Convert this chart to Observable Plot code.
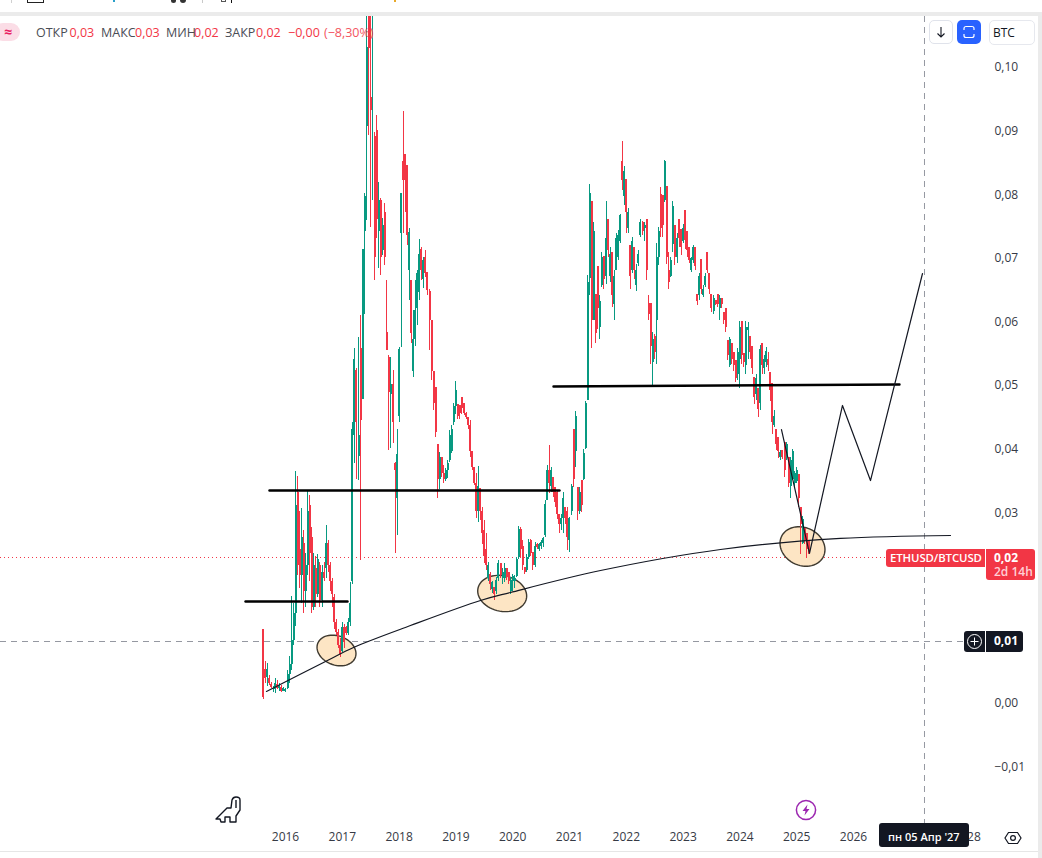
<!DOCTYPE html>
<html lang="ru">
<head>
<meta charset="utf-8">
<title>ETHUSD/BTCUSD</title>
<script src="https://cdn.jsdelivr.net/npm/d3@7"></script>
<script src="https://cdn.jsdelivr.net/npm/@observablehq/plot@0.6"></script>
<style>
html,body{margin:0;padding:0;background:#fff;width:1042px;height:858px;overflow:hidden}
#chart{position:absolute;left:0;top:0}
.c{position:absolute;font-family:"Open Sans",sans-serif;font-size:12px;line-height:1;white-space:nowrap}
.lg{top:26.5px;color:#4a4d55;font-size:12.5px}
.lr{top:26.5px;color:#f23645;font-size:12.5px}
.box{position:absolute;box-sizing:border-box}
svg.ic{position:absolute;overflow:visible}
</style>
</head>
<body>
<div id="chart"></div>
<script>
// Weekly-ish candles in units of 0.0001 BTC, each row [open, high, low, close]; rows are evenly placed inside a year.
const candles2015 = [[114,114,5,8],[52,64,30,38],[40,62,25,52],[38,42,26,30],[28,32,22,24],[20,25,16,22],[20,38,14,30],[28,34,20,22],[22,30,18,26],[24,26,16,18],[18,24,17,22]];
const candles2016 = [[18,22,16,20],[22,50,20,44],[44,72,30,60],[60,166,50,98],[98,155,90,140],[140,363,120,310],[330,355,200,215],[240,300,180,200],[200,305,155,260],[250,270,140,175],[175,234,150,215],[215,334,200,300],[310,325,190,235],[260,275,140,150],[150,235,145,215],[210,230,150,170],[170,232,165,225],[215,220,150,160],[160,215,150,205],[205,220,190,195],[210,279,195,250],[250,255,205,215],[215,220,175,190],[190,195,150,170],[165,170,115,125],[125,130,105,110],[110,115,85,90],[90,100,70,75]];
const candles2017 = [[80,125,78,118],[118,122,85,95],[118,120,105,108],[108,132,105,125],[125,188,120,155],[190,441,185,430],[420,556,375,540],[522,525,351,440],[386,574,349,420],[556,608,223,443],[477,713,477,713],[740,800,610,795],[905,1500,758,1030],[1080,1500,891,1028],[951,1500,747,931],[1200,1400,789,1210],[890,896,663,700],[900,923,729,760],[740,817,682,790],[790,792,671,700],[710,761,703,750],[770,784,687,700],[582,664,553,553],[543,545,396,488],[485,542,399,500],[500,522,407,440],[375,378,234,365],[320,430,262,390]];
const candles2018 = [[450,558,440,555],[737,800,558,800],[850,930,737,820],[861,861,770,820],[844,844,718,735],[680,745,632,739],[663,663,564,580],[520,616,511,570],[570,663,560,616],[620,679,593,675],[645,728,632,705],[712,716,663,680],[665,700,651,695],[700,710,668,675],[676,676,640,648],[647,650,553,600],[600,600,506,520],[520,520,459,470],[495,495,417,425],[406,406,320,350],[350,393,335,385],[385,385,354,360],[360,372,345,350],[350,368,348,365],[365,380,352,375],[380,427,378,420],[395,435,391,430],[440,470,435,465]];
const candles2019 = [[465,504,453,490],[469,469,445,450],[467,467,445,455],[480,480,453,462],[470,470,451,455],[455,456,445,448],[448,448,430,435],[435,443,385,395],[395,395,364,370],[370,370,341,345],[345,360,290,300],[300,371,283,340],[336,336,286,300],[300,307,249,265],[270,286,218,230],[240,265,207,215],[195,220,191,215],[202,204,176,185],[178,190,172,188],[181,181,160,170],[175,196,170,192],[195,223,191,218],[218,218,195,200],[195,210,185,205],[195,218,188,210],[210,210,192,197],[205,205,185,190],[175,197,170,192]];
const candles2020 = [[190,202,175,198],[190,200,180,195],[198,228,197,225],[228,276,225,272],[272,275,228,240],[245,254,207,215],[212,212,202,205],[207,233,205,228],[228,257,225,252],[255,257,230,235],[236,236,207,215],[215,252,212,245],[248,250,240,243],[240,250,238,248],[245,255,240,252],[250,260,244,258],[262,317,260,312],[317,372,317,365],[365,404,328,345],[340,370,330,365],[354,354,322,330],[338,338,307,315],[330,333,287,295],[296,296,265,280],[280,296,270,290],[290,330,265,320],[307,307,280,290],[300,307,239,260]];
const candles2021 = [[255,291,236,290],[300,343,294,340],[430,430,338,350],[395,457,369,450],[338,338,286,300],[300,338,295,330],[349,349,299,310],[350,398,349,392],[400,474,398,470],[475,671,475,660],[666,815,640,800],[787,787,556,600],[600,755,600,740],[642,642,564,580],[685,685,587,620],[590,640,571,630],[655,708,653,700],[702,702,650,665],[670,788,658,730],[760,760,700,710],[670,715,660,705],[708,708,621,640],[625,679,600,670],[680,737,680,730],[700,742,695,735],[725,768,721,765],[850,882,805,820],[795,842,781,835]];
const candles2022 = [[823,823,737,770],[745,777,737,770],[718,718,650,670],[680,731,674,725],[715,715,665,680],[655,689,647,680],[690,710,685,705],[735,760,731,755],[755,757,735,740],[745,755,725,750],[759,759,663,680],[627,640,600,610],[627,627,532,560],[535,582,498,570],[575,579,540,550],[600,721,532,700],[700,747,687,740],[799,810,731,745],[797,797,731,750],[790,852,786,850],[811,811,689,700],[680,708,650,660],[670,700,668,695],[720,787,708,780],[750,750,687,700],[700,737,690,730],[760,760,716,730],[744,744,703,715]];
const candles2023 = [[725,752,721,745],[774,774,712,726],[740,740,700,710],[715,715,690,695],[680,700,676,698],[695,718,690,715],[716,716,680,685],[642,642,624,630],[640,674,632,670],[697,697,642,650],[640,655,637,650],[655,674,653,670],[708,708,674,680],[675,675,642,650],[642,642,613,620],[615,640,610,635],[632,632,624,626],[642,642,621,625],[620,640,600,635],[635,635,620,625],[613,613,595,600],[619,619,582,590],[569,569,537,545],[530,574,527,570],[564,564,531,540],[550,550,520,530],[537,537,503,510],[515,556,506,550]];
const candles2024 = [[540,599,493,590],[599,599,532,545],[548,548,527,535],[530,599,516,590],[585,598,540,590],[575,575,540,550],[560,560,516,525],[511,511,469,480],[485,516,475,510],[493,493,448,460],[470,561,459,555],[564,564,516,530],[525,545,516,540],[535,558,526,552],[540,550,520,530],[519,519,474,490],[501,501,422,440],[435,459,433,450],[430,430,396,405],[417,417,383,395],[385,396,380,393],[396,396,382,385],[409,409,354,365],[385,409,380,405],[385,385,338,345],[340,385,320,380],[350,398,349,395],[345,363,338,360]];
const candles2025 = [[348,370,344,365],[359,359,307,320],[307,307,233,280],[250,292,249,288],[273,273,249,255],[265,265,226,240],[254,254,233,236]];

const yearTicks = [2016,2017,2018,2019,2020,2021,2022,2023,2024,2025,2026,2028];
const priceTicks = [-0.01,0,0.03,0.04,0.05,0.06,0.07,0.08,0.09,0.10];

// Drawn levels, as [year, price]
const levelLow  = [[2015.296,0.01588],[2017.092,0.01588]];
const levelMid  = [[2015.718,0.03333],[2020.824,0.03333]];
const levelHigh = [[2020.718,0.04969],[2026.810,0.0500]];
const growthCurve = [[2015.665,0.00173],[2016.739,0.0066],[2017.197,0.00865],[2018.2,0.0121],[2019.433,0.01604],[2019.961,0.0173],[2021.546,0.02075],[2023.658,0.02406],[2025.771,0.02579],[2027.708,0.02626]];
const projection = [[2024.732,0.04292],[2025.225,0.02343],[2025.806,0.0467],[2026.299,0.0349],[2027.215,0.06745]];
// Circled lows: centre year, centre price, half width in years, half height in price, tilt in price
const circledLows = [[2016.898,0.00818,0.343,0.00236,-0.0005],[2019.815,0.01714,0.431,0.00283,-0.0004],[2025.102,0.02453,0.396,0.00307,-0.0005]];

const lastPrice = 0.0228, crossPrice = 0.00959, crossYear = 2027.25;
const priceLineEnd = 2026.563, crossLineEnd = 2027.954;
const upColor = "#089981", downColor = "#f23645";

const yearStarts = [[2015,17,candles2015],[2016,0,candles2016],[2017,0,candles2017],[2018,0,candles2018],[2019,0,candles2019],[2020,0,candles2020],[2021,0,candles2021],[2022,0,candles2022],[2023,0,candles2023],[2024,0,candles2024],[2025,0,candles2025]];
const candles = yearStarts.flatMap(([yr,off,rows]) => rows.map((r,i) => ({
  t: yr + (off+i)/28, open:r[0]/1e4, high:r[1]/1e4, low:r[2]/1e4, close:r[3]/1e4
})));
const tone = d => d.close >= d.open ? upColor : downColor;

const outlines = circledLows.flatMap(([cx,cy,rx,ry,tilt],id) => d3.range(0,360,6).map(a => {
  const r = a*Math.PI/180;
  return {id, t: cx+rx*Math.cos(r), v: cy+ry*Math.sin(r)+tilt*Math.cos(r)};
}));

const fmtPrice = d => (d<0?"\u2212":"")+Math.abs(d).toFixed(2).replace(".",",");
const pt = a => ({x:d=>d[0],y:d=>d[1]});

const plot = Plot.plot({
  width:1042, height:858,
  marginTop:16, marginBottom:28, marginLeft:0, marginRight:48,
  style:{fontFamily:'"Open Sans",sans-serif',fontSize:"12px",color:"#363a45",background:"transparent"},
  x:{domain:[2010.9824,2028.4824],label:null},
  y:{domain:[-0.020126,0.10786],label:null},
  marks:[
    Plot.axisX({ticks:yearTicks,tickFormat:d=>String(d),tickSize:0,tickPadding:0,label:null,dy:2}),
    Plot.axisY({ticks:priceTicks,anchor:"right",tickFormat:fmtPrice,tickSize:0,tickPadding:0,label:null,dy:1}),
    Plot.ruleY([lastPrice],{x1:2010.9824,x2:priceLineEnd,stroke:downColor,strokeWidth:1,strokeDasharray:"1,3"}),
    Plot.ruleY([crossPrice],{x1:2010.9824,x2:crossLineEnd,stroke:"#9598a1",strokeWidth:1,strokeDasharray:"6,5"}),
    Plot.ruleX([crossYear],{stroke:"#9598a1",strokeWidth:1,strokeDasharray:"6,5"}),
    Plot.line(outlines,{x:"t",y:"v",z:"id",curve:"linear-closed",fill:"#fde5c4",stroke:"#3f3a30",strokeWidth:1.4}),
    Plot.ruleX(candles,{x:"t",y1:"low",y2:"high",stroke:tone,strokeWidth:1,clip:true,shapeRendering:"crispEdges"}),
    Plot.ruleX(candles,{x:"t",y1:"open",y2:"close",stroke:tone,strokeWidth:2,clip:true,shapeRendering:"crispEdges"}),
    Plot.line(levelLow,{...pt(),stroke:"#000",strokeWidth:2.4}),
    Plot.line(levelMid,{...pt(),stroke:"#000",strokeWidth:2.4}),
    Plot.line(levelHigh,{...pt(),stroke:"#000",strokeWidth:2.4}),
    Plot.line(growthCurve,{...pt(),curve:"catmull-rom",stroke:"#131722",strokeWidth:1.2}),
    Plot.line(projection,{...pt(),stroke:"#131722",strokeWidth:1.2})
  ]
});
document.getElementById("chart").appendChild(plot);

// Terminal chrome around the plot
function box(l,t,w,h,css,html){
  const e=document.createElement("div");e.className="box";
  e.style.cssText=`left:${l}px;top:${t}px;width:${w}px;height:${h}px;`+(css||"");
  if(html)e.innerHTML=html;document.body.appendChild(e);return e;
}
function txt(l,t,s,css,cls){
  const e=document.createElement("div");e.className="c "+(cls||"");
  e.style.cssText=`left:${l}px;`+(t!=null?`top:${t}px;`:"")+(css||"");
  e.textContent=s;document.body.appendChild(e);return e;
}
box(0,12,1042,4,"background:#ebebeb");
box(1038,12,4,846,"background:#ebebeb");
box(0,851,1038,1,"background:#e6e6e6");
// cut-off toolbar icons
box(11,0,1,3,"background:#d0d0d0");
box(27,0,17,3,"border:1px solid #222;border-top:none");
box(113,0,2,2,"background:#2a9fc9");
box(171,0,5,3,"background:#333;border-radius:0 0 3px 3px");
box(180,0,6,3,"background:#333;border-radius:0 0 3px 3px");
box(202,0,1,3,"background:#c9c9c9");
box(221,0,5,2,"border:1px solid #555;border-top:none");
box(231,0,1,3,"background:#111");
box(394,0,2,2,"background:#e8a92a");
// legend
box(-6,23,26,18,"background:#fbdde6;border-radius:9px");
txt(4,25,"\u2248","color:#e91e63;font-weight:700;font-size:14px");
txt(36,null,"ОТКР","","lg");txt(69.5,null,"0,03","","lr");
txt(101,null,"МАКС","","lg");txt(135,null,"0,03","","lr");
txt(166,null,"МИН","","lg");txt(194,null,"0,02","","lr");
txt(225,null,"ЗАКР","","lg");txt(256,null,"0,02","","lr");
txt(288,null,"\u22120,00","","lr");txt(324,null,"(\u22128,30%)","opacity:.85","lr");
// top right buttons
box(929,20,24,24,"background:#fff;border:1px solid #e0e3eb;border-radius:5px",
 '<svg width="22" height="22" style="display:block"><path d="M11 6v10M7.5 12.5L11 16l3.5-3.5" fill="none" stroke="#131722" stroke-width="1.1"/></svg>');
box(957,20,24,24,"background:#2962ff;border-radius:5px",
 '<svg width="24" height="24" style="display:block"><path d="M7 10v-1.5a2 2 0 0 1 2-2h6a2 2 0 0 1 2 2V10M7 14v1.5a2 2 0 0 0 2 2h6a2 2 0 0 0 2-2V14" fill="none" stroke="#fff" stroke-width="1.2"/></svg>');
box(989,20,46,25,"background:#fff;border:1px solid #e6e8ee;border-radius:5px");
txt(993,27,"BTC","color:#131722");
// price tags
box(886,549,99,18,"background:#f23645;border-radius:3px 0 0 3px");
txt(890,552,"ETHUSD/BTCUSD","color:#fff;font-weight:600;font-size:11.4px;letter-spacing:-.1px");
box(986,549,49,31,"background:#f23645;border-radius:0 3px 3px 3px");
txt(994,552,"0,02","color:#fff;font-weight:700");
txt(994,566,"2d 14h","color:#ffd0d5;font-weight:600");
box(964,631,21,21,"background:#131722;border-radius:3px 0 0 3px",
 '<svg width="21" height="21" style="display:block"><circle cx="10.5" cy="10.5" r="7" fill="none" stroke="#fff" stroke-width="1"/><path d="M10.5 6.5v8M6.5 10.5h8" stroke="#fff" stroke-width="1"/></svg>');
box(986,631,37,21,"background:#131722;border-radius:0 3px 3px 0");
txt(994,635,"0,01","color:#fff;font-weight:700");
// date tag
box(879,823,90,24,"background:#131722;border-radius:3px");
txt(888,831,"пн 05 Апр '27","color:#fff;font-weight:600;font-size:11px");
// settings gear
box(1004,829,18,18,"",'<svg width="18" height="18" style="display:block"><path d="M4.5 3.5h9L17 9l-3.5 5.5h-9L1 9z" fill="none" stroke="#131722" stroke-width="1.2"/><circle cx="9" cy="9" r="2.4" fill="none" stroke="#131722" stroke-width="1.2"/></svg>');
// dinosaur
box(215,796,28,28,"",'<svg width="28" height="28" style="display:block"><path d="M1 23L12 12L16 12L17 4Q18 1 21 1Q25 1 25 4V14L21 20V26H15V21H10V26H6L5 23Z M21 4V12" fill="none" stroke="#131722" stroke-width="1.4" stroke-linejoin="round"/></svg>');
// lightning
box(795,799,22,22,"",'<svg width="22" height="22" style="display:block"><circle cx="11" cy="11" r="9.6" fill="none" stroke="#9c27b0" stroke-width="1.5"/><path d="M12.5 5.5L7.5 12h3l-1 4.5 5-6.5h-3z" fill="#9c27b0"/></svg>');
</script>
</body>
</html>
